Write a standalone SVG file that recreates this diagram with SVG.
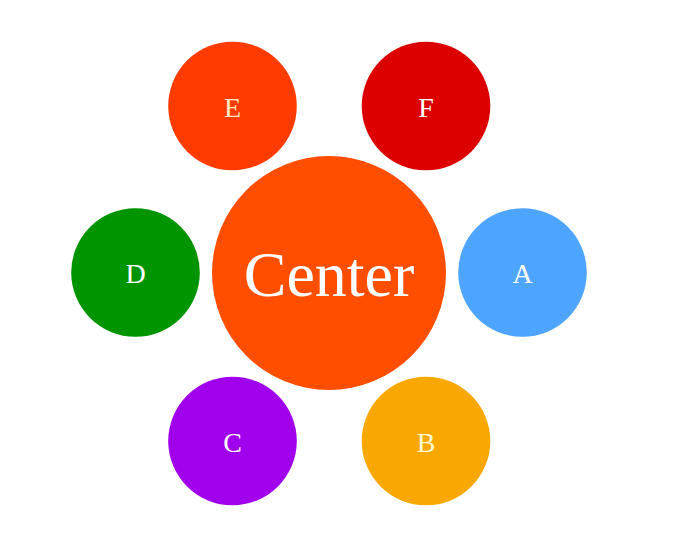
<svg xmlns="http://www.w3.org/2000/svg" width="684" height="555" viewBox="0 0 684 555">
<style>
text{font-family:"Liberation Serif","Times New Roman",serif;fill:#ffffff;text-anchor:middle}
.s{font-size:28px}
.c{font-size:64px}
</style>
<rect width="684" height="555" fill="#ffffff"/>
<g id="connectors"></g>
<g id="center"><circle cx="329" cy="273" r="117" fill="#ff4e00"/><text class="c" x="329" y="296">Center</text></g>
<g id="nodeA"><circle cx="522.5" cy="272.5" r="64.3" fill="#4ea5ff"/><text class="s" x="522.5" y="283">A</text></g>
<g id="nodeB"><circle cx="426" cy="441" r="64.3" fill="#f8a800"/><text class="s" x="426" y="451.5" fill="#fffbd0" style="fill:#fffbd0">B</text></g>
<g id="nodeC"><circle cx="232.5" cy="441" r="64.3" fill="#a100ec"/><text class="s" x="232.5" y="451.5">C</text></g>
<g id="nodeD"><circle cx="135.5" cy="272.5" r="64.3" fill="#009400"/><text class="s" x="135.5" y="283">D</text></g>
<g id="nodeE"><circle cx="232.5" cy="106" r="64.3" fill="#ff3b00"/><text class="s" x="232.5" y="116.5" style="fill:#ffe9c0">E</text></g>
<g id="nodeF"><circle cx="426" cy="106" r="64.3" fill="#dc0000"/><text class="s" x="426" y="116.5">F</text></g>
</svg>
